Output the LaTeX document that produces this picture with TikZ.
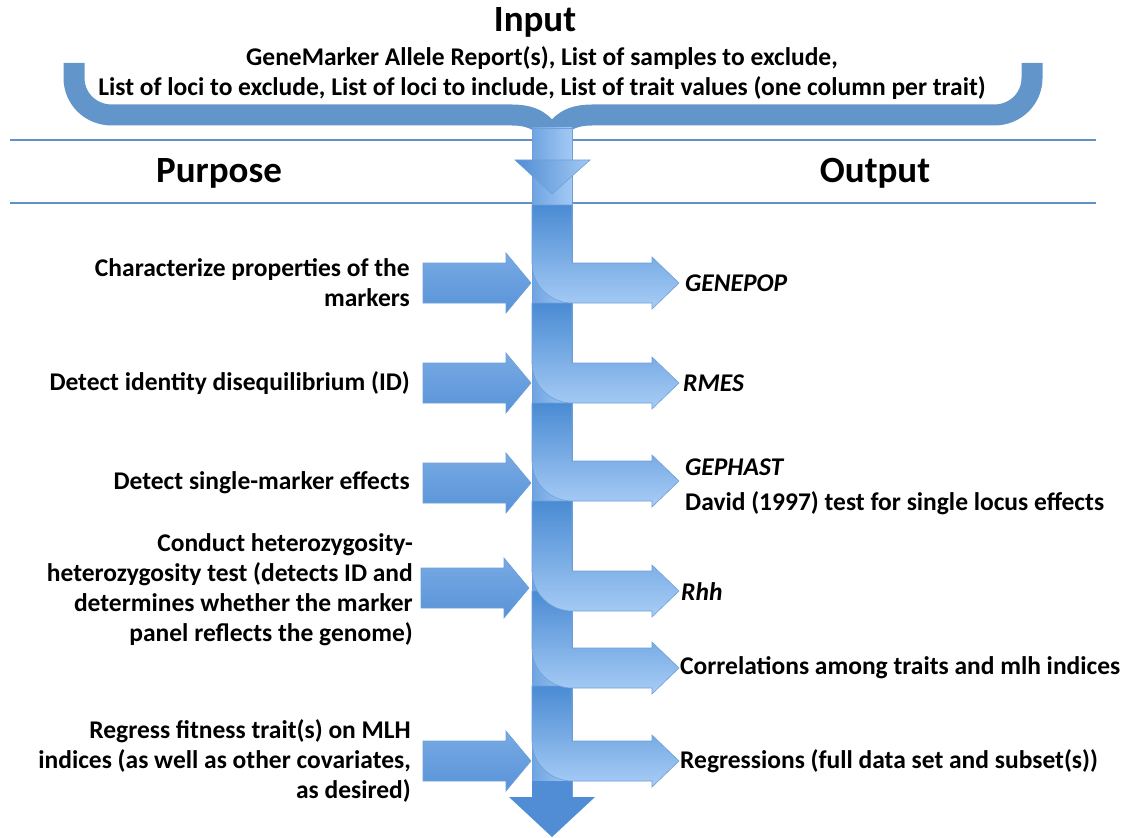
\documentclass[tikz,border=0pt]{standalone}
\usepackage{fontspec}
\setmainfont{Carlito}
\definecolor{bracecol}{RGB}{98,150,203}
\definecolor{linecol}{RGB}{96,146,200}
\definecolor{segdark}{RGB}{74,139,211}
\definecolor{seglight}{RGB}{168,205,246}
\definecolor{segedge}{RGB}{110,160,215}
\definecolor{shaftlight}{RGB}{163,201,244}
\definecolor{shaftdark}{RGB}{110,164,226}
\definecolor{arrtop}{RGB}{120,170,228}
\definecolor{arrmid}{RGB}{160,198,242}
\definecolor{arrbot}{RGB}{88,147,216}
\definecolor{tipcol}{RGB}{80,141,212}
\begin{document}
\begin{tikzpicture}[x=1pt,y=-1pt]
%%%%%%%%%%%%%%%%%%%%%%%%%%%%%%%%%%%%%%%%%%%%%%%%%%%%%%%%
% STYLE
\tikzstyle{txt}=[font=\bfseries\fontsize{25.5}{30}\selectfont,inner sep=0pt]
\tikzstyle{itxt}=[font=\bfseries\itshape\fontsize{25.5}{30}\selectfont,inner sep=0pt]
\tikzstyle{title}=[font=\bfseries\fontsize{37}{40}\selectfont,inner sep=0pt]
\tikzstyle{sepline}=[draw=linecol,line width=2.5pt]
\tikzstyle{brace}=[draw=bracecol,line width=21pt]
\tikzstyle{seg}=[top color=segdark,bottom color=seglight,draw=segedge,line width=0.6pt]
\tikzstyle{inarrow}=[top color=arrtop,middle color=arrmid,bottom color=arrbot,draw=segedge,line width=0.6pt]

\useasboundingbox (0,0) rectangle (1123,837);

%%%%%%%%%%%%%%%%%%%%%%%%%%%%%%%%%%%%%%%%%%%%%%%%%%%%%%%%
% NODES
\node[title] (input) at (535,22) {Input};
\node[txt,align=center] (inlist) at (542,73) {GeneMarker Allele Report(s), List of samples to exclude,\\List of loci to exclude, List of loci to include, List of trait values (one column per trait)};

\node[title] (purpose) at (219,173) {Purpose};
\node[title] (output) at (875,173) {Output};

\node[txt,align=right,anchor=east] (p1) at (410,283) {Characterize properties of the\\markers};
\node[txt,align=right,anchor=east] (p2) at (410,383) {Detect identity disequilibrium (ID)};
\node[txt,align=right,anchor=east] (p3) at (410,483) {Detect single-marker effects};
\node[txt,align=right,anchor=east] (p4) at (413,590) {Conduct heterozygosity-\\heterozygosity test (detects ID and\\determines whether the marker\\panel reflects the genome)};
\node[txt,align=right,anchor=east] (p5) at (411,761) {Regress fitness trait(s) on MLH\\indices (as well as other covariates,\\as desired)};

\node[itxt,anchor=west] (o1) at (685,283) {GENEPOP};
\node[itxt,anchor=west] (o2) at (683,383) {RMES};
\node[itxt,anchor=west] (o3) at (685,467) {GEPHAST};
\node[txt,anchor=west] (o3b) at (685,503) {David (1997) test for single locus effects};
\node[itxt,anchor=west] (o4) at (681,592) {Rhh};
\node[txt,anchor=west] (o5) at (680,668) {Correlations among traits and mlh indices};
\node[txt,anchor=west] (o6) at (680,761) {Regressions (full data set and subset(s))};

%%%%%%%%%%%%%%%%%%%%%%%%%%%%%%%%%%%%%%%%%%%%%%%%%%%%%%%%
% SHAPES
\draw[sepline] (10,140) -- (1096,140);
\draw[sepline] (10,203) -- (1096,203);

\draw[brace] (74,63) -- (74,78) .. controls (74,98) and (90,115) .. (112,115) -- (512,115) .. controls (532,115) and (546,122) .. (552,140);
\draw[brace] (1032,63) -- (1032,78) .. controls (1032,98) and (1016,115) .. (994,115) -- (592,115) .. controls (572,115) and (558,122) .. (552,140);

\shade[left color=shaftdark,right color=shaftlight,draw=segedge,line width=0.6pt] (532,128) rectangle (572,797);
\shade[left color=tipcol,right color=shaftlight,draw=segedge,line width=0.6pt] (515,160) -- (590,160) -- (552,194) -- cycle;

\fill[tipcol] (532,781) rectangle (572,798);
\fill[tipcol] (509,797) -- (595,797) -- (552,837) -- cycle;

% purpose arrows
\shade[inarrow] (423,263) -- (506,263) -- (506,253) -- (531,283) -- (506,313) -- (506,303) -- (423,303) -- cycle;
\shade[inarrow] (423,363) -- (506,363) -- (506,353) -- (531,383) -- (506,413) -- (506,403) -- (423,403) -- cycle;
\shade[inarrow] (423,463) -- (506,463) -- (506,453) -- (531,483) -- (506,513) -- (506,503) -- (423,503) -- cycle;
\shade[inarrow] (421,568) -- (504,568) -- (504,558) -- (529,588) -- (504,618) -- (504,608) -- (421,608) -- cycle;
\shade[inarrow] (423,741) -- (506,741) -- (506,731) -- (531,761) -- (506,791) -- (506,781) -- (423,781) -- cycle;

% output bends
\shade[seg] (532,686) -- (572,686) -- (572,741) -- (652,741) -- (652,735) -- (679,761) -- (652,787) -- (652,781) -- (572,781) .. controls (550,781) and (532,763) .. (532,741) -- cycle;
\shade[seg] (532,591) -- (572,591) -- (572,648) -- (652,648) -- (652,642) -- (679,668) -- (652,694) -- (652,688) -- (572,688) .. controls (550,688) and (532,670) .. (532,648) -- cycle;
\shade[seg] (532,501) -- (572,501) -- (572,571) -- (652,571) -- (652,565) -- (679,591) -- (652,617) -- (652,611) -- (572,611) .. controls (550,611) and (532,593) .. (532,571) -- cycle;
\shade[seg] (532,403) -- (572,403) -- (572,461) -- (652,461) -- (652,455) -- (679,481) -- (652,507) -- (652,501) -- (572,501) .. controls (550,501) and (532,483) .. (532,461) -- cycle;
\shade[seg] (532,303) -- (572,303) -- (572,363) -- (652,363) -- (652,357) -- (679,383) -- (652,409) -- (652,403) -- (572,403) .. controls (550,403) and (532,385) .. (532,363) -- cycle;
\shade[seg] (532,205) -- (572,205) -- (572,263) -- (652,263) -- (652,257) -- (679,283) -- (652,309) -- (652,303) -- (572,303) .. controls (550,303) and (532,285) .. (532,263) -- cycle;

\end{tikzpicture}
\end{document}
